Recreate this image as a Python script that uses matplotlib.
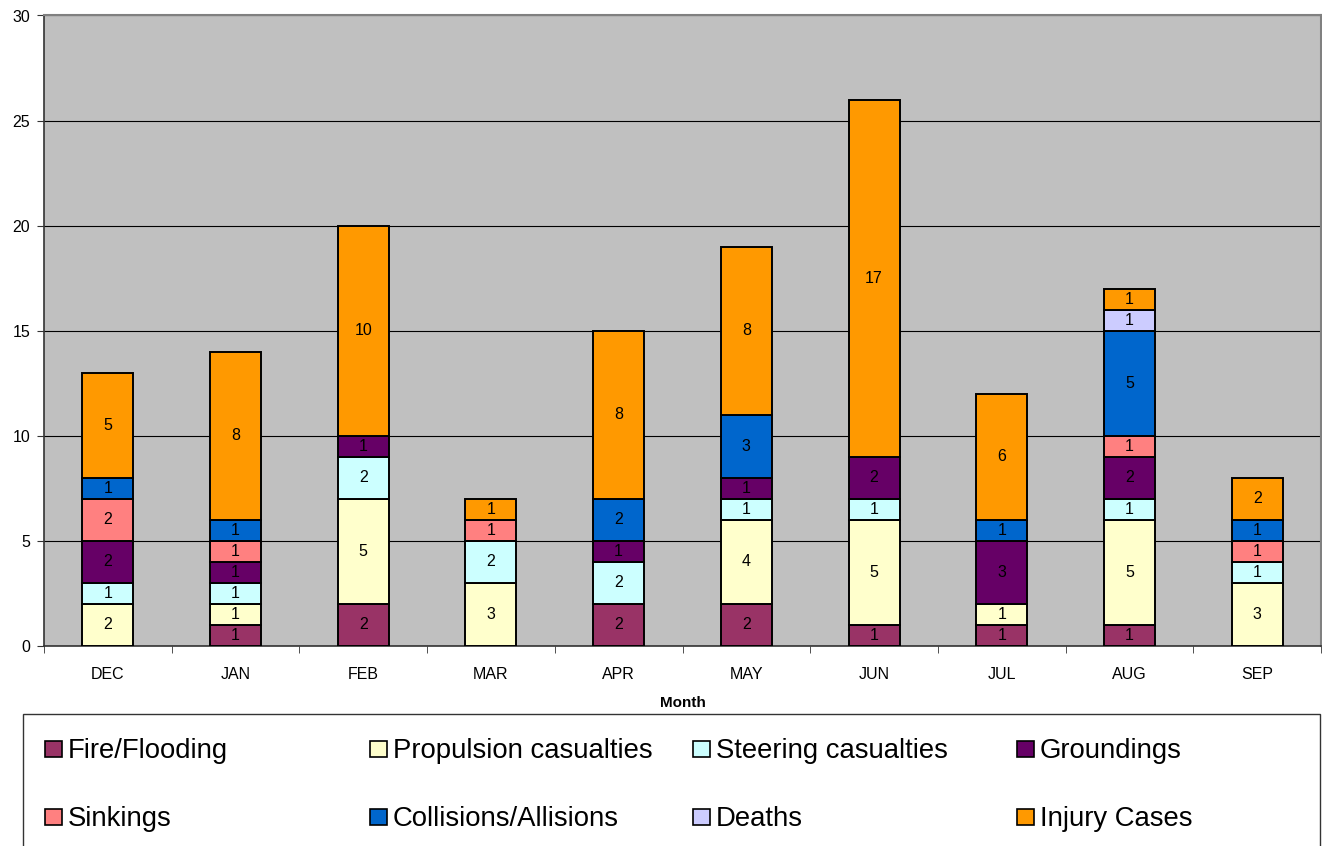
import matplotlib
matplotlib.use("Agg")
from matplotlib import pyplot as plt
from matplotlib.patches import Rectangle
import numpy as np

plt.rcParams['font.family'] = ['Liberation Sans', 'DejaVu Sans']

months = ["DEC", "JAN", "FEB", "MAR", "APR", "MAY", "JUN", "JUL", "AUG", "SEP"]

fire_flooding = [0, 1, 2, 0, 2, 2, 1, 1, 1, 0]
propulsion = [2, 1, 5, 3, 0, 4, 5, 1, 5, 3]
steering = [1, 1, 2, 2, 2, 1, 1, 0, 1, 1]
groundings = [2, 1, 1, 0, 1, 1, 2, 3, 2, 0]
sinkings = [2, 1, 0, 1, 0, 0, 0, 0, 1, 1]
collisions = [1, 1, 0, 0, 2, 3, 0, 1, 5, 1]
deaths = [0, 0, 0, 0, 0, 0, 0, 0, 1, 0]
injury = [5, 8, 10, 1, 8, 8, 17, 6, 1, 2]

series_names = ["Fire/Flooding", "Propulsion casualties", "Steering casualties", "Groundings",
                "Sinkings", "Collisions/Allisions", "Deaths", "Injury Cases"]
series_vals = [fire_flooding, propulsion, steering, groundings,
               sinkings, collisions, deaths, injury]
colors = ["#993366", "#FFFFCC", "#CCFFFF", "#660066",
          "#FF8080", "#0066CC", "#CCCCFF", "#FF9900"]

fig = plt.figure(figsize=(13.22, 8.46), dpi=100)
ax = fig.add_axes([44 / 1322, 200 / 846, 1277 / 1322, 630.5 / 846])
ax.set_facecolor("#C0C0C0")

x = np.arange(len(months))
bottom = np.zeros(len(months))
for name, vals, c in zip(series_names, series_vals, colors):
    vals = np.array(vals, dtype=float)
    bars = ax.bar(x, vals, 0.4, bottom=bottom, color=c, edgecolor="black",
                  linewidth=1.4, zorder=3)
    for b, v, y0 in zip(bars, vals, bottom):
        if v > 0:
            ax.text(b.get_x() + b.get_width() / 2, y0 + v / 2, "%d" % v,
                    ha="center", va="center", fontsize=11.5, zorder=4)
    bottom += vals

ax.set_xlim(-0.5, len(months) - 0.5)
ax.set_ylim(0, 30)
ax.set_yticks(range(0, 31, 5))
ax.yaxis.grid(True, color="black", linewidth=0.8, zorder=1)
ax.set_axisbelow(True)

ax.set_xticks(x)
ax.set_xticklabels(months, fontsize=11.5)
ax.set_xticks(np.arange(-0.5, len(months), 1), minor=True)
ax.tick_params(axis="x", which="major", length=0, pad=15)
ax.tick_params(axis="x", which="minor", length=5, direction="out", color="#333333")
ax.tick_params(axis="y", length=5, direction="out", labelsize=11.5, pad=5, color="#333333")

for s in ["top", "right"]:
    ax.spines[s].set_color("#808080")
    ax.spines[s].set_linewidth(1.5)
for s in ["left", "bottom"]:
    ax.spines[s].set_color("#333333")
    ax.spines[s].set_linewidth(1.2)

ax.set_xlabel("Month", fontsize=11, fontweight="bold", labelpad=10)

# legend box at the bottom, drawn by hand in pixel coordinates
W, H = 1322, 846
fig.add_artist(Rectangle((23 / W, -0.01), 1297 / W, (846 - 714) / H + 0.01,
                         transform=fig.transFigure, facecolor="white",
                         edgecolor="#333333", linewidth=1.0))
col_x = [45, 370, 693, 1017]
row_y = [749, 817]
for i, (name, c) in enumerate(zip(series_names, colors)):
    px = col_x[i % 4]
    py = row_y[i // 4]
    fig.add_artist(Rectangle((px / W, (H - py - 8) / H), 17 / W, 16 / H,
                             transform=fig.transFigure, facecolor=c,
                             edgecolor="black", linewidth=1.2))
    fig.text((px + 23) / W, (H - py - 2) / H, name, fontsize=19.8, va="center", ha="left")

fig.savefig("out.png", dpi=100)
